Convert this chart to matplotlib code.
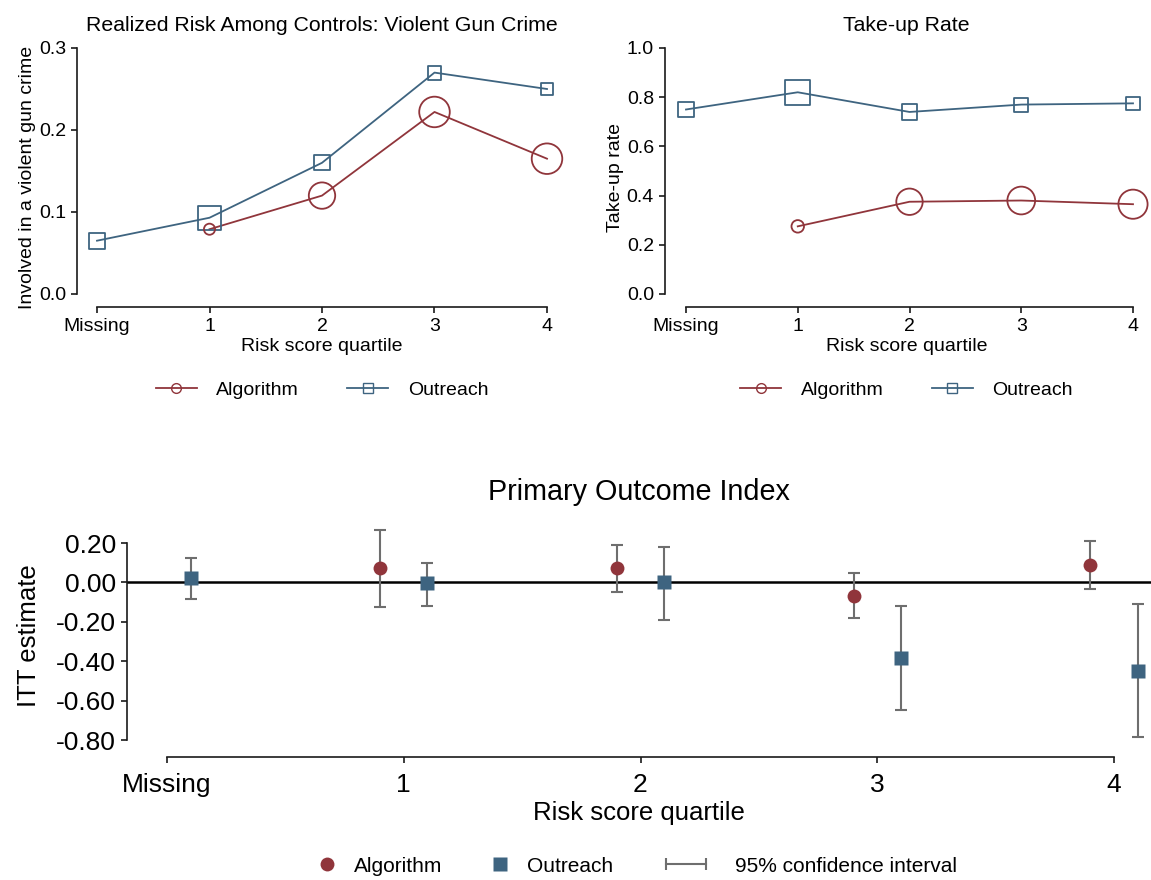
import numpy as np
import matplotlib
matplotlib.use("Agg")
import matplotlib.pyplot as plt
from matplotlib.lines import Line2D
from matplotlib.legend_handler import HandlerLine2D

plt.rcParams['font.family'] = ['Liberation Sans', 'DejaVu Sans']

# ---- data ----
quartiles = ['Missing', '1', '2', '3', '4']
xpos = np.arange(len(quartiles))

# realized risk among controls (violent gun crime)
risk_outreach = [0.065, 0.093, 0.160, 0.270, 0.250]
risk_algorithm = [np.nan, 0.079, 0.120, 0.222, 0.165]
risk_out_w = [11.5, 17, 11, 10, 9]
risk_alg_w = [0, 8, 19, 22, 22]

# take-up rate
take_outreach = [0.750, 0.820, 0.740, 0.770, 0.775]
take_algorithm = [np.nan, 0.275, 0.375, 0.380, 0.365]
take_out_w = [11.5, 18, 11, 10, 9.5]
take_alg_w = [0, 9, 19, 20, 21]

# ITT estimates, primary outcome index
itt_alg = [np.nan, 0.071, 0.072, -0.068, 0.086]
itt_alg_lo = [np.nan, -0.127, -0.048, -0.180, -0.035]
itt_alg_hi = [np.nan, 0.268, 0.192, 0.047, 0.210]
itt_out = [0.020, -0.005, 0.000, -0.383, -0.450]
itt_out_lo = [-0.085, -0.118, -0.190, -0.648, -0.785]
itt_out_hi = [0.122, 0.098, 0.180, -0.118, -0.108]

RED = '#90353B'
BLUE = '#3E6480'
GREY = '#6E6E6E'
AX = '#1a1a1a'

W, H = 1151, 880
fig = plt.figure(figsize=(W / 100, H / 100), dpi=100)


def px_axes(left, right, top, bottom):
    return fig.add_axes([left / W, 1 - bottom / H, (right - left) / W, (bottom - top) / H])


def stata_axes(ax, ybounds, fs, xpad=3.5):
    for s in ['top', 'right']:
        ax.spines[s].set_visible(False)
    ax.spines['left'].set_bounds(*ybounds)
    ax.spines['bottom'].set_bounds(0, 4)
    for s in ['left', 'bottom']:
        ax.spines[s].set_color(AX)
        ax.spines[s].set_linewidth(1.2)
    ax.tick_params(direction='out', length=4.5, width=1.2, color=AX, labelsize=fs)
    ax.tick_params(axis='x', pad=xpad)
    ax.set_xticks(xpos)
    ax.set_xticklabels(quartiles)


def top_panel(ax, out, alg, out_w, alg_w, title, ylabel, yt, fmt):
    ax.plot(xpos, out, color=BLUE, lw=1.3, zorder=2)
    ax.plot(xpos, alg, color=RED, lw=1.3, zorder=2)
    ax.scatter(xpos, out, s=np.array(out_w) ** 2, marker='s', facecolors='none',
               edgecolors=BLUE, linewidths=1.3, clip_on=False, zorder=3)
    ax.scatter(xpos, alg, s=np.array(alg_w) ** 2, marker='o', facecolors='none',
               edgecolors=RED, linewidths=1.3, clip_on=False, zorder=3)
    stata_axes(ax, (yt[0], yt[-1]), 14)
    ax.set_yticks(yt)
    ax.set_yticklabels([fmt % v for v in yt])
    ax.set_title(title, fontsize=15.3, pad=12)
    ax.set_ylabel(ylabel, fontsize=14, labelpad=2)
    ax.set_xlabel('Risk score quartile', fontsize=14, labelpad=2)
    handles = [Line2D([], [], color=RED, lw=1.3, marker='o', mfc='none', mec=RED, ms=7),
               Line2D([], [], color=BLUE, lw=1.3, marker='s', mfc='none', mec=BLUE, ms=7)]
    ax.legend(handles, ['Algorithm', 'Outreach'], ncol=2, frameon=False, fontsize=14,
              loc='center', bbox_to_anchor=(0.5, -0.32), handlelength=2.1,
              handletextpad=1.0, columnspacing=2.5)


# top-left
ax1 = px_axes(77, 567, 48, 307)
ax1.set_xlim(-20 / 112.5, 4 + 20 / 112.5)
ax1.set_ylim(-13 / 820, 0.3)
top_panel(ax1, risk_outreach, risk_algorithm, risk_out_w, risk_alg_w,
          'Realized Risk Among Controls: Violent Gun Crime',
          'Involved in a violent gun crime', [0.0, 0.1, 0.2, 0.3], '%.1f')

# top-right
ax2 = px_axes(665, 1148, 48, 307)
ax2.set_xlim(-21 / 111.75, 4 + 15 / 111.75)
ax2.set_ylim(-13 / 246, 1.0)
top_panel(ax2, take_outreach, take_algorithm, take_out_w, take_alg_w,
          'Take-up Rate', 'Take-up rate', [0.0, 0.2, 0.4, 0.6, 0.8, 1.0], '%.1f')

# bottom
ax3 = px_axes(127, 1151, 515, 757)
ax3.set_xlim(-40 / 236.75, 4 + 37 / 236.75)
ax3.set_ylim(-0.8 - 17 / 197, 0.2 + 28 / 197)
ax3.axhline(0, color='black', lw=1.8, zorder=1)
alg = np.array(itt_alg)
out = np.array(itt_out)
ax3.errorbar(xpos - 0.1, alg, yerr=[alg - np.array(itt_alg_lo), np.array(itt_alg_hi) - alg],
             fmt='none', ecolor=GREY, elinewidth=1.5, capsize=4.5, capthick=1.5, zorder=2)
ax3.errorbar(xpos + 0.1, out, yerr=[out - np.array(itt_out_lo), np.array(itt_out_hi) - out],
             fmt='none', ecolor=GREY, elinewidth=1.5, capsize=4.5, capthick=1.5, zorder=2,
             clip_on=False)
ax3.plot(xpos - 0.1, alg, 'o', color=RED, ms=10, mec='none', zorder=3)
ax3.plot(xpos + 0.1, out, 's', color=BLUE, ms=10, mec='none', zorder=3, clip_on=False)
yt = [0.2, 0.0, -0.2, -0.4, -0.6, -0.8]
stata_axes(ax3, (-0.8, 0.2), 19, xpad=7)
ax3.set_yticks(yt)
ax3.set_yticklabels(['%.2f' % v for v in yt])
ax3.set_title('Primary Outcome Index', fontsize=20.7, pad=11)
ax3.set_ylabel('ITT estimate', fontsize=18.5, labelpad=11)
ax3.set_xlabel('Risk score quartile', fontsize=18.5, labelpad=3)

# bottom legend, one entry at a time (Stata spacing)
ci_handle = Line2D([], [], color=GREY, lw=1.5, marker='|', ms=8, mew=1.5)
entries = [
    (Line2D([], [], ls='none', marker='o', color=RED, ms=10, mec='none'), 'Algorithm', 308, 1.8, 0.4),
    (Line2D([], [], ls='none', marker='s', color=BLUE, ms=10, mec='none'), 'Outreach', 481, 1.8, 0.4),
    (ci_handle, '95% confidence interval', 660, 2.5, 1.1),
]
for handle, label, x0, hl, tp in entries:
    fig.legend([handle], [label], frameon=False, fontsize=15, loc='center left',
               bbox_to_anchor=(x0 / W, 1 - 866 / H), borderpad=0, borderaxespad=0,
               handlelength=hl, handletextpad=tp,
               handler_map={ci_handle: HandlerLine2D(numpoints=2)})

fig.savefig('out.png', dpi=100)
